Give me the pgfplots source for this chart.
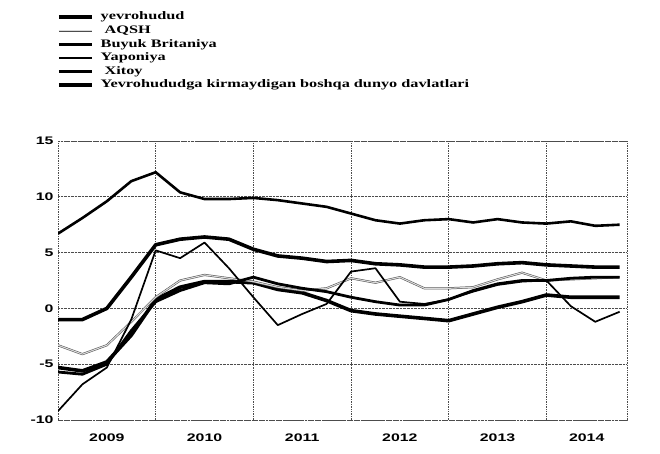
\documentclass[border=0pt]{standalone}
\usepackage{fontspec}
\usepackage{pgfplots}
\usepackage{pgfplotstable}
\pgfplotsset{compat=1.18}
\setmainfont{Liberation Serif}
\newfontfamily\legfont[FakeStretch=1.42]{Liberation Serif}
\newfontfamily\tickfont[FakeStretch=1.45]{Liberation Sans}

% quarterly growth, k=0 is 2009 Q1
\pgfplotstableread{
k  evro aqsh buyuk yapon xitoy boshqa
0  -5.3 -3.3 -5.7  -9.2  6.7  -1.0
1  -5.6 -4.1 -5.9  -6.8  8.1  -1.0
2  -4.8 -3.3 -5.0  -5.3  9.6   0.0
3  -2.4 -1.2 -2.0  -1.0 11.4   2.8
4   0.8  1.0  0.6   5.2 12.2   5.7
5   1.9  2.5  1.6   4.5 10.4   6.2
6   2.4  3.0  2.3   5.9  9.8   6.4
7   2.4  2.7  2.2   3.6  9.8   6.2
8   2.3  2.4  2.8   1.0  9.9   5.3
9   1.7  1.9  2.2  -1.5  9.7   4.7
10  1.4  1.6  1.8  -0.5  9.4   4.5
11  0.7  1.8  1.5   0.4  9.1   4.2
12 -0.2  2.7  1.0   3.3  8.5   4.3
13 -0.5  2.3  0.6   3.6  7.9   4.0
14 -0.7  2.8  0.3   0.6  7.6   3.9
15 -0.9  1.8  0.3   0.4  7.9   3.7
16 -1.1  1.8  0.8   0.8  8.0   3.7
17 -0.5  1.9  1.6   1.5  7.7   3.8
18  0.1  2.6  2.2   2.1  8.0   4.0
19  0.6  3.2  2.5   2.4  7.7   4.1
20  1.2  2.5  2.5   2.5  7.6   3.9
21  1.0  2.6  2.7   0.2  7.8   3.8
22  1.0  2.7  2.8  -1.2  7.4   3.7
23  1.0  2.8  2.8  -0.3  7.5   3.7
}\gdp

\begin{document}
\begin{tikzpicture}
\useasboundingbox (-58bp,-34bp) rectangle (602bp,420bp);
\begin{axis}[
    at={(0,0)}, anchor=south west,
    scale only axis, width=569bp, height=279bp,
    xmin=0, xmax=23.3, ymin=-10, ymax=15,
    xtick={2,6,10,14,18,21.65},
    xticklabels={2009,2010,2011,2012,2013,2014},
    minor xtick={4,8,12,16,20},
    ytick={-10,-5,0,5,10,15},
    yticklabels={-10,-5,0,5,10,15},
    major tick length=0pt, minor tick length=0pt,
    xmajorgrids=false, xminorgrids=true, ymajorgrids=true,
    grid style={densely dotted, black!70, line width=0.7bp},
    minor grid style={densely dotted, black!70, line width=0.7bp},
    axis line style={densely dotted, black!70, line width=0.7bp},
    ticklabel style={font=\tickfont\bfseries\fontsize{11}{12}\selectfont},
    xticklabel style={yshift=-10bp},
    yticklabel style={xshift=-1bp},
    legend cell align=left,
    legend image code/.code={\draw[#1] (0bp,0bp) -- (33bp,0bp); \path (40bp,0bp);},
    legend style={at={(-0.002,1.465)}, anchor=north west, draw=none, fill=none,
        inner sep=0pt, row sep=2.6bp,
        font=\legfont\bfseries\fontsize{11.5}{12}\selectfont,
        nodes={inner sep=0pt, text height=8.5bp, text depth=2.5bp}},
    line join=round,
]
\addplot[black, line width=3.6bp] table[x=k, y=evro] {\gdp};
\addlegendentry{yevrohudud}
\addplot[draw=black!70, double=gray!30, double distance=1.1bp, line width=0.5bp] table[x=k, y=aqsh] {\gdp};
\addlegendentry{\hspace*{4bp}AQSH}
\addplot[black, line width=2.8bp] table[x=k, y=buyuk] {\gdp};
\addlegendentry{Buyuk Britaniya}
\addplot[black, line width=1.7bp, legend image post style={line width=2.4bp}] table[x=k, y=yapon] {\gdp};
\addlegendentry{Yaponiya}
\addplot[black, line width=2.6bp] table[x=k, y=xitoy] {\gdp};
\addlegendentry{\hspace*{4bp}Xitoy}
\addplot[black, line width=3.6bp] table[x=k, y=boshqa] {\gdp};
\addlegendentry{Yevrohududga kirmaydigan boshqa dunyo davlatlari}
\end{axis}
\end{tikzpicture}
\end{document}
